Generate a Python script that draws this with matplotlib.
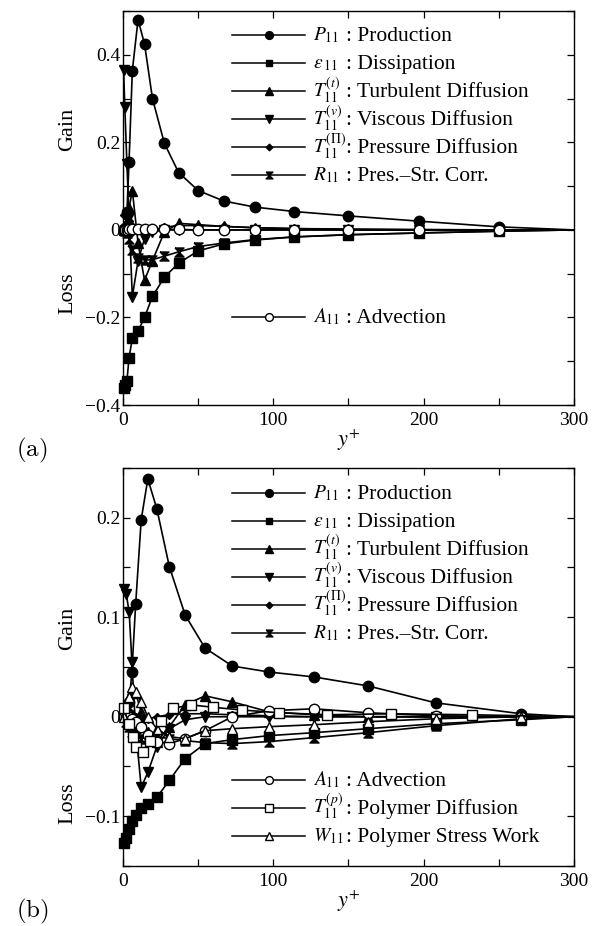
import matplotlib

matplotlib.use("Agg")
import matplotlib.pyplot as plt
import matplotlib.ticker as mticker
import numpy as np
from matplotlib.legend import Legend
from matplotlib.legend_handler import HandlerLine2D
from matplotlib.lines import Line2D

plt.rcParams["font.family"] = ["Liberation Serif", "DejaVu Serif"]
plt.rcParams["mathtext.fontset"] = "stix"

# ---- (a) Newtonian flow: budget of u'u' versus y+ ----
yplus_a = [0.4, 1.2, 2.6, 4.0, 6.2, 10.0, 14.3, 19.6, 27.5, 37.0, 50.0, 67.0,
           88.0, 114.0, 150.0, 197.0, 250.0, 300.0]
prod_a = [0.0, 0.005, 0.04, 0.155, 0.364, 0.48, 0.425, 0.30, 0.198, 0.131, 0.09,
          0.066, 0.052, 0.042, 0.032, 0.02, 0.007, 0.0]
diss_a = [-0.362, -0.355, -0.345, -0.292, -0.248, -0.231, -0.20, -0.152, -0.108,
          -0.076, -0.048, -0.032, -0.023, -0.016, -0.011, -0.007, -0.003, 0.0]
turb_a = [0.0, 0.005, 0.02, 0.05, 0.09, -0.03, -0.115, -0.07, -0.005, 0.015,
          0.012, 0.008, 0.005, 0.003, 0.002, 0.001, 0.0, 0.0]
visc_a = [0.365, 0.28, 0.15, 0.03, -0.153, -0.07, -0.02, -0.005, 0.0, 0.0, 0.0,
          0.0, 0.0, 0.0, 0.0, 0.0, 0.0, 0.0]
pdif_a = [0.035, 0.035, 0.03, 0.02, 0.01, 0.0, -0.003, 0.0, 0.006, 0.01, 0.01,
          0.008, 0.005, 0.003, 0.001, 0.0, 0.0, 0.0]
pstr_a = [0.0, -0.002, -0.008, -0.02, -0.045, -0.065, -0.069, -0.068, -0.06,
          -0.05, -0.038, -0.03, -0.022, -0.016, -0.011, -0.007, -0.003, 0.0]
adv_a = [0.0, 0.0, 0.0, 0.001, 0.002, 0.002, 0.002, 0.002, 0.001, 0.001, 0.0,
         0.0, 0.0, 0.0, 0.0, 0.0, 0.0, 0.0]

# ---- (b) polymer solution ----
yplus_b = [0.4, 2.2, 4.1, 5.9, 8.4, 12.1, 16.5, 22.5, 30.8, 41.4, 54.6, 72.7,
           97.0, 127.0, 163.0, 208.0, 265.0, 300.0]
prod_b = [0.0, 0.003, 0.015, 0.045, 0.113, 0.198, 0.239, 0.209, 0.151, 0.102,
          0.069, 0.051, 0.045, 0.04, 0.031, 0.014, 0.003, 0.0]
diss_b = [-0.127, -0.122, -0.113, -0.105, -0.099, -0.092, -0.088, -0.081, -0.064,
          -0.042, -0.027, -0.023, -0.019, -0.016, -0.012, -0.007, -0.003, 0.0]
turb_b = [0.003, 0.01, 0.02, 0.027, 0.024, 0.005, -0.015, -0.025, -0.01, 0.012,
          0.021, 0.015, 0.005, 0.002, 0.0, 0.0, 0.0, 0.0]
visc_b = [0.128, 0.123, 0.105, 0.055, -0.012, -0.071, -0.056, -0.03, -0.012,
          -0.003, 0.0, 0.0, 0.0, 0.0, 0.0, 0.0, 0.0, 0.0]
pdif_b = [0.005, 0.008, 0.006, 0.003, 0.0, -0.002, -0.002, 0.0, 0.002, 0.003,
          0.003, 0.002, 0.001, 0.0, 0.0, 0.0, 0.0, 0.0]
pstr_b = [0.0, -0.005, -0.01, -0.015, -0.02, -0.022, -0.02, -0.02, -0.022, -0.024,
          -0.026, -0.027, -0.025, -0.021, -0.016, -0.009, -0.002, 0.0]
adv_b = [0.0, 0.0, 0.0, -0.002, -0.005, -0.01, -0.018, -0.025, -0.027, -0.022,
         -0.014, 0.0, 0.006, 0.008, 0.004, 0.001, 0.0, 0.0]
work_b = [0.0, 0.01, 0.02, 0.03, 0.025, 0.015, 0.0, -0.012, -0.02, -0.022,
          -0.014, -0.012, -0.01, -0.008, -0.005, -0.002, 0.0, 0.0]
# polymer diffusion sits on the staggered grid
yplus_p = [0.5, 4.0, 6.6, 8.8, 13.2, 18.0, 25.0, 33.5, 45.0, 60.0, 79.0, 104.0,
           136.0, 178.0, 232.0, 300.0]
pdifp_b = [0.0085, -0.0075, -0.02, -0.03, -0.035, -0.024, -0.004, 0.0085, 0.012,
           0.0095, 0.0068, 0.004, 0.002, 0.003, 0.002, 0.0]

HOURGLASS = [(-1, 1), (1, 1), (-1, -1), (1, -1), (-1, 1)]
STYLE = {
    "P": dict(marker="o", ms=7.5, mfc="k"),
    "eps": dict(marker="s", ms=6.5, mfc="k"),
    "Tt": dict(marker="^", ms=7.0, mfc="k"),
    "Tv": dict(marker="v", ms=7.0, mfc="k"),
    "Tp": dict(marker="D", ms=4.5, mfc="k"),
    "R": dict(marker=HOURGLASS, ms=6.5, mfc="k"),
    "A": dict(marker="o", ms=7.5, mfc="w"),
    "TP": dict(marker="s", ms=7.5, mfc="w"),
    "W": dict(marker="^", ms=7.5, mfc="w"),
}
SYMBOL = {
    "P": r"$P_{\mathit{11}}$",
    "eps": r"$\varepsilon_{\,\mathit{11}}$",
    "Tt": r"$T_{\mathit{11}}^{(t)}$",
    "Tv": r"$T_{\mathit{11}}^{(v)}$",
    "Tp": r"$T_{\mathit{11}}^{(\Pi)}$",
    "R": r"$R_{\mathit{11}}$",
    "A": r"$A_{\mathit{11}}$",
    "TP": r"$T_{\mathit{11}}^{(p)}$",
    "W": r"$W_{\mathit{11}}$",
}
NAME = {
    "P": ": Production",
    "eps": ": Dissipation",
    "Tt": ": Turbulent Diffusion",
    "Tv": ": Viscous Diffusion",
    "Tp": ": Pressure Diffusion",
    "R": ": Pres.\u2013Str. Corr.",
    "A": ": Advection",
    "TP": ": Polymer Diffusion",
    "W": ": Polymer Stress Work",
}

PX = 100 / 72          # pixels per point at dpi 100
FS_SYM = 14.0          # legend symbols
FS_TXT = 15.5          # legend descriptions
HH = 3.0               # tall handle boxes so every legend row has the same height
PITCH_PX = 28.0        # distance between legend rows
LINE_UP = 0.26         # key line height above the text baseline (em of FS_TXT)
KEY_X0, KEY_LEN, KEY_PAD, TXT_X = 0.242, 73.0, 8.0, 0.495

# matplotlib's legend sizes its handle box as: descent = 0.35*fs*(hh-0.7),
# height = fs*hh - descent, spanning -descent .. height-descent around the baseline
DESC_F = 0.35 * (HH - 0.7)
ROW_F = HH - DESC_F
ABOVE_F = ROW_F - DESC_F


class LoweredLine(HandlerLine2D):
    # draw the key through the lower case letters of the label
    def create_artists(self, legend, orig_handle, xdescent, ydescent, width,
                       height, fontsize, trans):
        artists = super().create_artists(legend, orig_handle, xdescent,
                                         ydescent, width, height, fontsize, trans)
        drop = (height - ydescent) / 2 - LINE_UP * FS_TXT
        for a in artists:
            a.set_ydata(np.asarray(a.get_ydata()) - drop)
        return artists


def add_key(ax, keys, first_px):
    """first_px: pixels from the axes top down to the first key line."""
    ax_h = ax.get_position().height * fig.get_figheight() * fig.dpi
    base_px = first_px + LINE_UP * FS_TXT * PX

    def common(fs):
        top_px = base_px - ABOVE_F * fs * PX
        return dict(loc="upper left", frameon=False, borderpad=0, borderaxespad=0,
                    fontsize=fs, handleheight=HH,
                    labelspacing=PITCH_PX / (fs * PX) - ROW_F), 1 - top_px / ax_h

    kw, top = common(FS_SYM)
    handles = [Line2D([], [], color="k", lw=1.1, mec="k", **STYLE[k]) for k in keys]
    leg = Legend(ax, handles, [SYMBOL[k] for k in keys],
                 bbox_to_anchor=(KEY_X0, top),
                 handlelength=KEY_LEN / (FS_SYM * PX),
                 handletextpad=KEY_PAD / (FS_SYM * PX), markerscale=0.75,
                 handler_map={Line2D: LoweredLine()}, **kw)
    ax.add_artist(leg)

    kw, top = common(FS_TXT)
    blanks = [Line2D([], [], linestyle="none") for _ in keys]
    leg = Legend(ax, blanks, [NAME[k] for k in keys], bbox_to_anchor=(TXT_X, top),
                 handlelength=0, handletextpad=0, **kw)
    ax.add_artist(leg)


def draw(ax, x, y, key):
    ax.plot(x, y, color="k", lw=1.2, mec="k", markevery=slice(0, -1),
            clip_on=False, **STYLE[key])


def style_axes(ax, ylim, ystep, ylab_step):
    ax.set_xlim(0, 300)
    ax.set_ylim(*ylim)
    ax.xaxis.set_major_locator(mticker.MultipleLocator(50))
    ax.yaxis.set_major_locator(mticker.MultipleLocator(ystep))

    def xfmt(v, pos):
        return "%d" % round(v) if abs(v / 100 - round(v / 100)) < 1e-6 else ""

    def yfmt(v, pos):
        if abs(v / ylab_step - round(v / ylab_step)) > 1e-6:
            return ""
        if abs(v) < 1e-9:
            return "0"
        return ("%.1f" % v).replace("-", "\u2212")

    ax.xaxis.set_major_formatter(mticker.FuncFormatter(xfmt))
    ax.yaxis.set_major_formatter(mticker.FuncFormatter(yfmt))
    ax.tick_params(direction="in", top=True, right=True, length=5, width=0.9,
                   labelsize=14)
    ax.tick_params(axis="x", pad=5)
    ax.tick_params(axis="y", pad=2)
    for s in ax.spines.values():
        s.set_linewidth(1.0)
    ax.set_xlabel(r"$y^{+}$", fontsize=16, labelpad=-1)


fig = plt.figure(figsize=(6.06, 9.26), dpi=100)
ax1 = fig.add_axes([0.203, 0.5626, 0.744, 0.4255])
ax2 = fig.add_axes([0.203, 0.0648, 0.744, 0.4298])

for key, vals in [("P", prod_a), ("eps", diss_a), ("Tt", turb_a), ("Tv", visc_a),
                  ("Tp", pdif_a), ("R", pstr_a), ("A", adv_a)]:
    draw(ax1, yplus_a, vals, key)
style_axes(ax1, (-0.4, 0.5), 0.1, 0.2)
add_key(ax1, ["P", "eps", "Tt", "Tv", "Tp", "R"], 24)
add_key(ax1, ["A"], 306)

for key, vals in [("P", prod_b), ("eps", diss_b), ("Tt", turb_b), ("Tv", visc_b),
                  ("Tp", pdif_b), ("R", pstr_b), ("A", adv_b), ("W", work_b)]:
    draw(ax2, yplus_b, vals, key)
draw(ax2, yplus_p, pdifp_b, "TP")
style_axes(ax2, (-0.15, 0.25), 0.05, 0.1)
add_key(ax2, ["P", "eps", "Tt", "Tv", "Tp", "R"], 25)
add_key(ax2, ["A", "TP", "W"], 312)

for ax, gain, loss in [(ax1, 0.70, 0.284), (ax2, 0.598, 0.158)]:
    ax.text(-0.122, gain, "Gain", rotation=90, ha="center", va="center",
            fontsize=16, transform=ax.transAxes)
    ax.text(-0.122, loss, "Loss", rotation=90, ha="center", va="center",
            fontsize=16, transform=ax.transAxes)

fig.text(0.053, 1 - 450 / 926, r"$\mathrm{(a)}$", math_fontfamily="cm",
         fontsize=18, ha="center", va="center")
fig.text(0.053, 1 - 911 / 926, r"$\mathrm{(b)}$", math_fontfamily="cm",
         fontsize=18, ha="center", va="center")

fig.savefig("out.png", dpi=100)
